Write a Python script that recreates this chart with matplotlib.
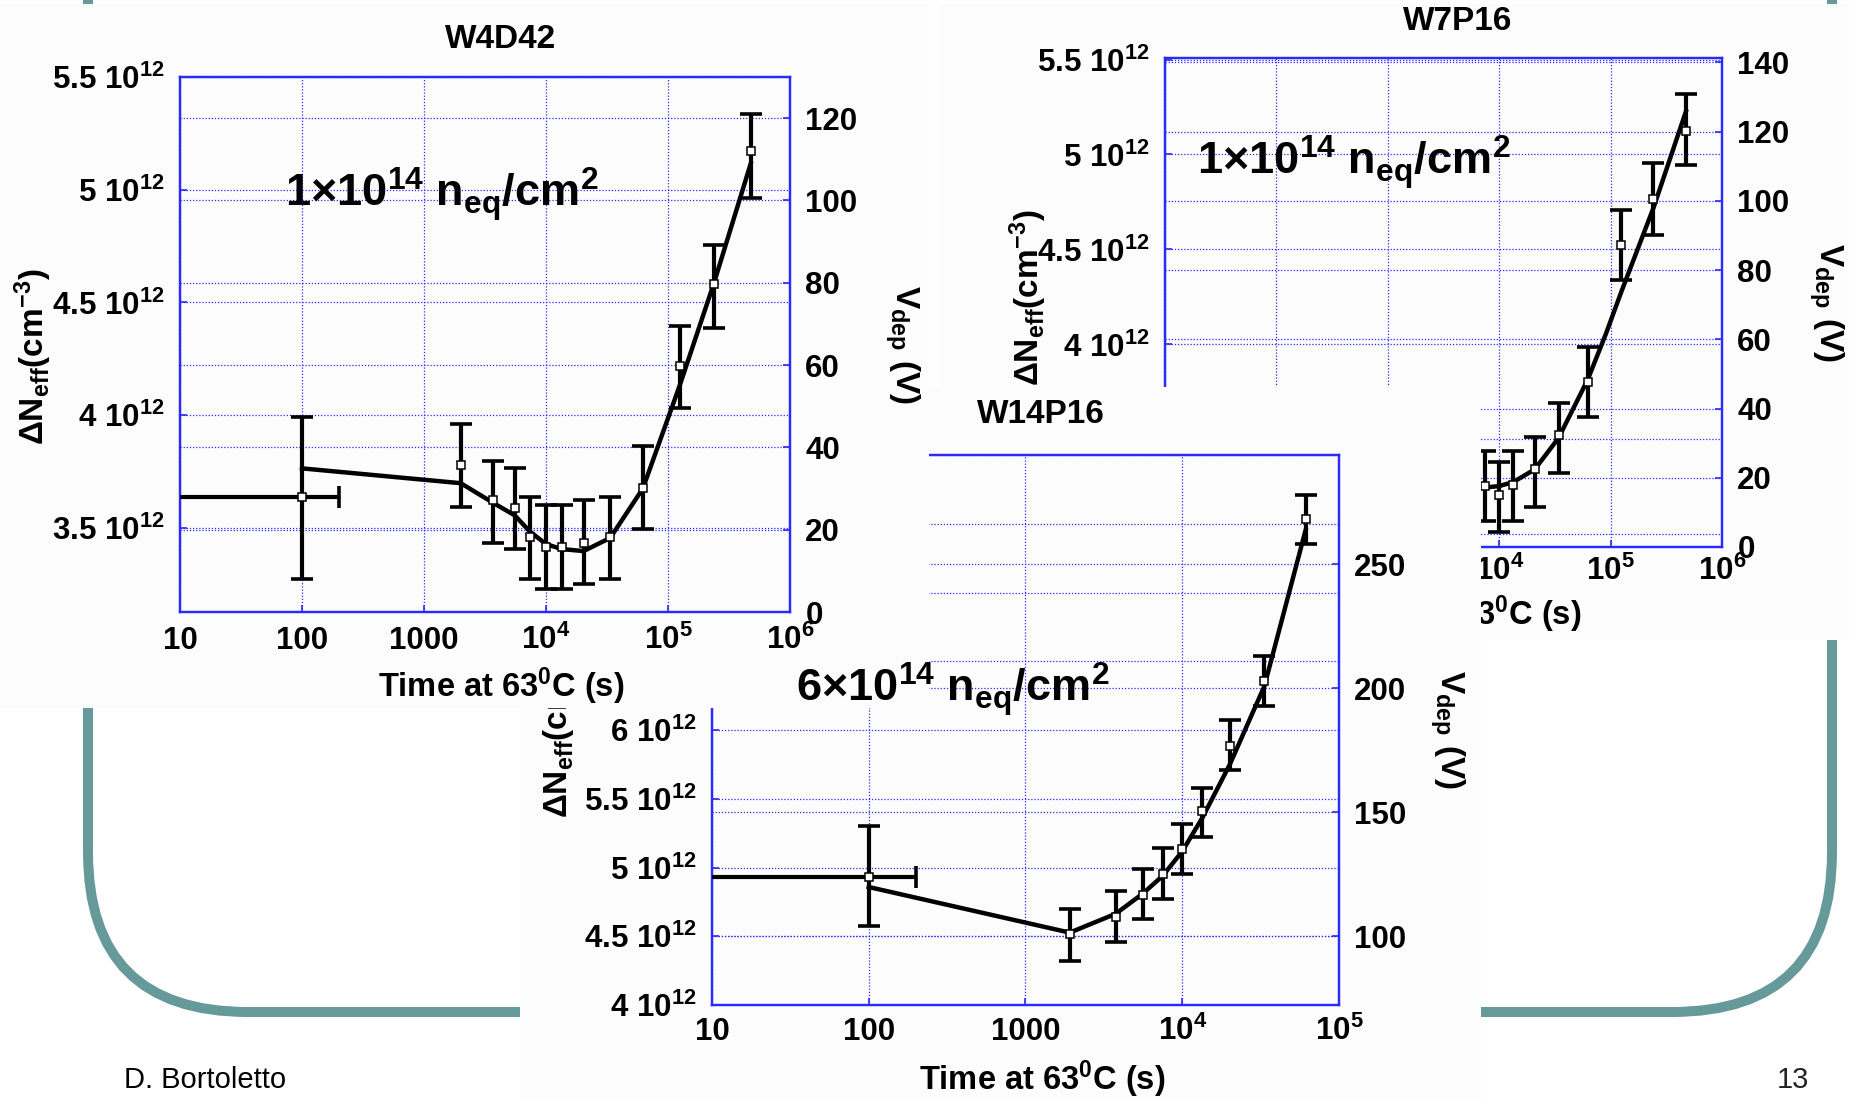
import matplotlib.pyplot as plt
from matplotlib.patches import Rectangle, FancyBboxPatch
from matplotlib.ticker import NullLocator

plt.rcParams['font.family'] = 'Liberation Sans'
plt.rcParams['font.weight'] = 'bold'
plt.rcParams['axes.labelweight'] = 'bold'
plt.rcParams['mathtext.fontset'] = 'custom'
plt.rcParams['mathtext.rm'] = 'Liberation Sans:bold'
plt.rcParams['mathtext.it'] = 'Liberation Sans:bold'
plt.rcParams['mathtext.bf'] = 'Liberation Sans:bold'
plt.rcParams['mathtext.default'] = 'rm'

# ---- data (time in s, depletion voltage in V) ----
# W4D42, 1e14 neq/cm2
w4_t = [100, 2000, 3700, 5530, 7410, 10000, 13400, 20300, 33600, 62200, 124600, 238500, 477000]
w4_v = [28.0, 35.7, 27.3, 25.2, 18.2, 15.9, 15.9, 16.7, 18.2, 30.2, 59.8, 79.8, 111.9]
w4_lo = [8.1, 25.4, 16.7, 15.2, 7.9, 5.7, 5.7, 6.8, 7.9, 20.2, 49.6, 69.1, 100.7]
w4_hi = [47.5, 45.7, 36.8, 35.1, 28.0, 26.0, 26.0, 27.1, 28.0, 40.3, 69.5, 89.2, 121.0]
w4_first_t = [0, 200]
w4_fit_t = [100, 2000, 3700, 5530, 7410, 10000, 13400, 20300, 33600, 62200, 124600, 238500, 477000]
w4_fit_v = [34.9, 31.3, 26.5, 23.5, 19.5, 16.5, 15.3, 14.8, 18.0, 30.0, 55.0, 80.0, 109.0]

# W7P16, 1e14 neq/cm2
w7_t = [7450, 10000, 13430, 20800, 34100, 62400, 125000, 242600, 475000]
w7_v = [17.6, 14.9, 17.8, 22.4, 32.3, 47.8, 87.4, 100.7, 120.1]
w7_lo = [7.6, 4.2, 7.5, 11.7, 21.4, 37.5, 77.1, 90.2, 110.4]
w7_hi = [27.8, 24.6, 27.8, 31.7, 41.5, 57.7, 97.5, 111.0, 130.8]
w7_fit_t = [7450, 10000, 13430, 20800, 34100, 62400, 91000, 125000, 242600, 475000]
w7_fit_v = [17.2, 17.6, 18.8, 22.4, 31.5, 48.4, 61.7, 73.8, 98.0, 125.9]

# W14P16, 6e14 neq/cm2
w14_t = [100, 1915, 3760, 5590, 7500, 10000, 13430, 20130, 33400, 61300]
w14_v = [123.8, 100.9, 107.7, 116.6, 125.2, 135.1, 150.4, 176.5, 203.0, 268.4]
w14_lo = [104.0, 90.1, 97.7, 106.7, 114.8, 124.9, 140.0, 167.0, 192.7, 258.1]
w14_hi = [144.5, 110.8, 118.0, 127.0, 135.5, 145.4, 159.8, 187.0, 213.1, 277.9]
w14_first_t = [0, 200]
w14_fit_t = [100, 1915, 3760, 5590, 7500, 10000, 13430, 20130, 33400, 61300]
w14_fit_v = [119.8, 101.4, 109.0, 117.1, 124.3, 134.2, 147.7, 169.3, 200.8, 263.9]

# axis ticks
t_ticks6 = [10, 100, 1000, 1e4, 1e5, 1e6]
t_labels6 = ['10', '100', '1000', '10$^4$', '10$^5$', '10$^6$']
t_ticks5 = [10, 100, 1000, 1e4, 1e5]
t_labels5 = ['10', '100', '1000', '10$^4$', '10$^5$']
w4_n_ticks = [3.5, 4, 4.5, 5, 5.5]
w4_v_ticks = [0, 20, 40, 60, 80, 100, 120]
w7_n_ticks = [3, 3.5, 4, 4.5, 5, 5.5]
w7_v_ticks = [0, 20, 40, 60, 80, 100, 120, 140]
w14_n_ticks = [4, 4.5, 5, 5.5, 6, 6.5, 7, 7.5, 8]
w14_v_ticks = [100, 150, 200, 250]

W, H = 1856, 1100
BLUE = '#2a2aff'
PANEL = '#fcfcfc'
TEAL = '#669999'

fig = plt.figure(figsize=(W / 100, H / 100), dpi=100)

# slide frame
bg = fig.add_axes([0, 0, 1, 1], zorder=0)
bg.set_xlim(0, W)
bg.set_ylim(H, 0)
bg.axis('off')
bg.add_patch(FancyBboxPatch((88, -400), 1832 - 88, 1012 + 400,
                            boxstyle='round,pad=0,rounding_size=160',
                            fill=False, ec=TEAL, lw=7.2))
fig.text(124 / W, 1 - 1080 / H, 'D. Bortoletto', fontsize=21, fontweight='normal',
         va='center', ha='left', zorder=20)
fig.text(1793 / W, 1 - 1080 / H, '13', fontsize=21, fontweight='normal',
         va='center', ha='center', color='#222222', zorder=20)


def add_panel(l, t, r, b, z):
    fig.add_artist(Rectangle((l / W, 1 - b / H), (r - l) / W, (b - t) / H,
                             transform=fig.transFigure, fc=PANEL, ec='none', zorder=z))


def chart(box, z, n_lim, n_ticks, v_lim, v_ticks, t_lim, t_ticks, t_labels, xpad,
          title, title_y, ylab_x, ylab_y, vlab_x, xlab_y):
    l, t, r, b = box
    ax = fig.add_axes([l / W, 1 - b / H, (r - l) / W, (b - t) / H], zorder=z)
    ax.set_facecolor(PANEL)
    ax.set_xscale('log', nonpositive='clip')
    ax.set_xlim(*t_lim)
    ax.set_ylim(*n_lim)
    ax.set_yticks(n_ticks, [f'{n:g} 10$^{{12}}$' for n in n_ticks])
    ax.set_xticks(t_ticks, t_labels)
    ax.xaxis.set_minor_locator(NullLocator())
    ax2 = ax.twinx()
    ax2.set_zorder(z + 0.1)
    ax2.set_ylim(*v_lim)
    ax2.set_yticks(v_ticks)
    for a in (ax, ax2):
        a.tick_params(direction='in', length=5, width=1.2, color=BLUE, labelsize=22.5, pad=11)
        for s in a.spines.values():
            s.set_color(BLUE)
            s.set_linewidth(1.6)
    ax.grid(True, color=BLUE, ls=(0, (1, 1.5)), lw=0.9)
    ax2.grid(True, axis='y', color=BLUE, ls=(0, (1, 1.5)), lw=0.9)
    ax.tick_params(axis='x', pad=xpad)
    for lbl in ax.get_xticklabels():
        lbl.set_va('baseline')

    ax.set_ylabel('ΔN$_{eff}$(cm$^{-3}$)', fontsize=24)
    ax.yaxis.set_label_coords(ylab_x, ylab_y)
    ax.yaxis.label.set_va('center')
    ax2.set_ylabel('V$_{dep}$ (V)', fontsize=24, rotation=270)
    ax2.yaxis.set_label_coords(vlab_x, 0.5)
    ax2.yaxis.label.set_va('center')
    ax.set_xlabel('Time at 63$^0$C (s)', fontsize=23.5)
    ax.xaxis.set_label_coords(0.527, xlab_y)
    ax.xaxis.label.set_va('center')
    ax2.text(0.525, title_y, title, transform=ax.transAxes, fontsize=24,
             ha='center', va='center')
    return ax2


def draw_data(a, tt, vv, lo, hi, fit_t, fit_v, first_t=None):
    a.plot(fit_t, fit_v, color='black', lw=3.2, zorder=2)
    a.errorbar(tt, vv, yerr=[[v - x for v, x in zip(vv, lo)], [x - v for v, x in zip(vv, hi)]],
               fmt='none', ecolor='black', elinewidth=3.0, capsize=8, capthick=2.6, zorder=3)
    if first_t is not None:
        a.errorbar(tt[0], vv[0], xerr=[[tt[0] - first_t[0]], [first_t[1] - tt[0]]],
                   fmt='none', ecolor='black', elinewidth=3.0, capsize=8, capthick=2.6, zorder=3)
    a.plot(tt, vv, 's', ms=6, mfc='white', mec='black', mew=1.1, zorder=4)


# W7P16 (back)
add_panel(940, 4, 1849, 640, 1)
a7 = chart((1165, 58, 1722, 547), 1.5, (2.933, 5.508), w7_n_ticks, (0, 141.3), w7_v_ticks,
           (10, 1e6), t_ticks6, t_labels6, 24, 'W7P16', 1.075, -0.245, 0.51, 1.187, -0.137)
draw_data(a7, w7_t, w7_v, w7_lo, w7_hi, w7_fit_t, w7_fit_v)
a7.text(0.058, 0.761, '1×10$^{14}$ n$_{eq}$/cm$^2$', transform=a7.transAxes,
        fontsize=32.5, va='baseline', ha='left', zorder=6)

# W14P16 (middle)
add_panel(520, 387, 1481, 1100, 3)
a14 = chart((712, 455, 1339, 1005), 3.5, (4.0, 8.0), w14_n_ticks, (72.2, 294.1), w14_v_ticks,
            (10, 1e5), t_ticks5, t_labels5, 25.5, 'W14P16', 1.0745, -0.247, 0.5, 1.172, -0.135)
draw_data(a14, w14_t, w14_v, w14_lo, w14_hi, w14_fit_t, w14_fit_v, w14_first_t)

# W4D42 (front)
add_panel(0, 4, 929, 708, 5)
a4 = chart((180, 77, 790, 612), 5.5, (3.127, 5.5), w4_n_ticks, (0, 130), w4_v_ticks,
           (10, 1e6), t_ticks6, t_labels6, 26.5, 'W4D42', 1.070, -0.24, 0.477, 1.184, -0.139)
draw_data(a4, w4_t, w4_v, w4_lo, w4_hi, w4_fit_t, w4_fit_v, w4_first_t)
a4.text(0.172, 0.758, '1×10$^{14}$ n$_{eq}$/cm$^2$', transform=a4.transAxes,
        fontsize=32.5, va='baseline', ha='left', zorder=6)

# fluence label of the W14P16 plot sits on top of everything
fig.text(796 / W, 1 - 701 / H, '6×10$^{14}$ n$_{eq}$/cm$^2$', fontsize=32.5,
         va='baseline', ha='left', zorder=30)

fig.savefig('out.png', dpi=100)
